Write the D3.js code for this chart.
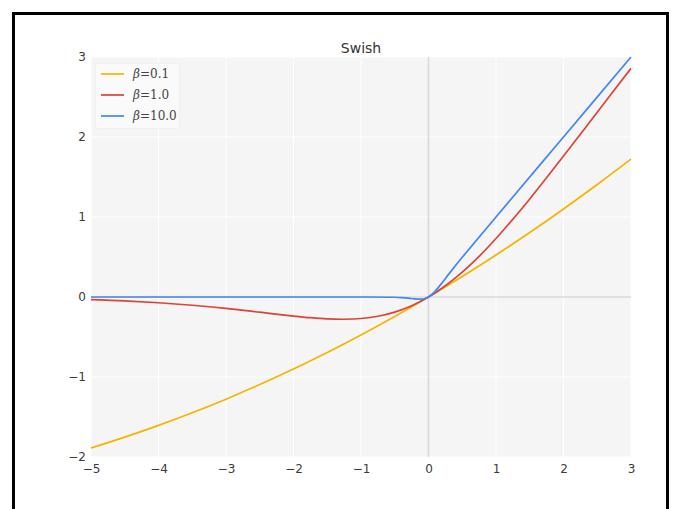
<!DOCTYPE html>
<html>
<head>
<meta charset="utf-8">
<script src="https://cdn.jsdelivr.net/npm/d3@7"></script>
<style>
  html, body { margin: 0; padding: 0; background: #ffffff; }
  svg { display: block; }
</style>
</head>
<body>
<svg id="chart" width="674" height="509"></svg>
<script>
// ---- Data ----
const xTicks = [-5, -4, -3, -2, -1, 0, 1, 2, 3];
const yTicks = [-2, -1, 0, 1, 2, 3];
const seriesLabels = ["0.1", "1.0", "10.0"];

const xBeta01 = [-5, -4.5, -4, -3.5, -3, -2.5, -2, -1.5, -1, -0.5, 0, 0.5, 1, 1.5, 2, 2.5, 3];
const yBeta01 = [-1.888, -1.752, -1.605, -1.447, -1.277, -1.094, -0.900, -0.694, -0.475, -0.244, 0, 0.256, 0.525, 0.806, 1.100, 1.406, 1.723];

const xBeta1 = [-5, -4.5, -4, -3.5, -3, -2.5, -2, -1.75, -1.5, -1.25, -1, -0.75, -0.5, -0.25, 0, 0.25, 0.5, 0.75, 1, 1.5, 2, 2.5, 3];
const yBeta1 = [-0.034, -0.049, -0.072, -0.103, -0.142, -0.190, -0.238, -0.259, -0.274, -0.278, -0.269, -0.241, -0.189, -0.109, 0, 0.141, 0.311, 0.509, 0.731, 1.226, 1.762, 2.310, 2.858];

const xBeta10 = [-5, -3, -1, -0.5, -0.4, -0.3, -0.2, -0.1, -0.05, 0, 0.05, 0.1, 0.2, 0.3, 0.4, 0.5, 1, 2, 3];
const yBeta10 = [0, 0, 0, -0.003, -0.007, -0.014, -0.024, -0.027, -0.019, 0, 0.031, 0.073, 0.176, 0.286, 0.393, 0.497, 1.0, 2.0, 3.0];

const colors = ["#f4b400", "#db4437", "#4285f4"];

// ---- Layout ----
const svg = d3.select("#chart");
const pL = 91, pR = 631, pT = 57, pB = 457;

const x = d3.scaleLinear().domain([-5, 3]).range([pL, pR]);
const y = d3.scaleLinear().domain([-2, 3]).range([pB, pT]);

// outer frame
svg.append("rect")
  .attr("x", 13.5).attr("y", 13.5)
  .attr("width", 654).attr("height", 520)
  .attr("fill", "none").attr("stroke", "#000").attr("stroke-width", 3);

// plot background
svg.append("rect")
  .attr("x", pL).attr("y", pT)
  .attr("width", pR - pL).attr("height", pB - pT)
  .attr("fill", "#f5f5f5");

// grid
const grid = svg.append("g");
grid.selectAll("line.gx").data(xTicks).enter().append("line")
  .attr("x1", d => x(d)).attr("x2", d => x(d))
  .attr("y1", pT).attr("y2", pB)
  .attr("stroke", "#ffffff").attr("stroke-width", 1);
grid.selectAll("line.gy").data(yTicks).enter().append("line")
  .attr("y1", d => y(d)).attr("y2", d => y(d))
  .attr("x1", pL).attr("x2", pR)
  .attr("stroke", "#ffffff").attr("stroke-width", 1);

// zero lines
svg.append("line")
  .attr("x1", x(0)).attr("x2", x(0)).attr("y1", pT).attr("y2", pB)
  .attr("stroke", "#d8d8d8").attr("stroke-width", 1.5);
svg.append("line")
  .attr("x1", pL).attr("x2", pR).attr("y1", y(0)).attr("y2", y(0))
  .attr("stroke", "#d8d8d8").attr("stroke-width", 1.5);

// axes (labels only)
const fmt = d => d < 0 ? "\u2212" + Math.abs(d) : String(d);
const xAxis = d3.axisBottom(x).tickValues(xTicks).tickSize(0).tickPadding(7).tickFormat(fmt);
const gx = svg.append("g").attr("transform", `translate(0,${pB})`).call(xAxis);
gx.select(".domain").remove();
gx.selectAll("text").attr("font-family", "DejaVu Sans").attr("font-size", 12).attr("fill", "#3a3a3a");

const yAxis = d3.axisLeft(y).tickValues(yTicks).tickSize(0).tickPadding(5).tickFormat(fmt);
const gy = svg.append("g").attr("transform", `translate(${pL},0)`).call(yAxis);
gy.select(".domain").remove();
gy.selectAll("text").attr("font-family", "DejaVu Sans").attr("font-size", 12).attr("fill", "#3a3a3a");

// title
svg.append("text")
  .attr("x", (pL + pR) / 2).attr("y", pT - 4)
  .attr("text-anchor", "middle")
  .attr("font-family", "DejaVu Sans").attr("font-size", 14).attr("fill", "#333")
  .text("Swish");

// lines
const series = [
  {xs: xBeta01, ys: yBeta01},
  {xs: xBeta1, ys: yBeta1},
  {xs: xBeta10, ys: yBeta10}
];
const line = d3.line().x(d => x(d[0])).y(d => y(d[1])).curve(d3.curveCatmullRom.alpha(0.5));
svg.append("g").selectAll("path").data(series).enter().append("path")
  .attr("d", s => line(s.xs.map((v, i) => [v, s.ys[i]])))
  .attr("fill", "none")
  .attr("stroke", (s, i) => colors[i])
  .attr("stroke-width", 1.7);

// legend
const lg = svg.append("g");
lg.append("rect")
  .attr("x", 95.5).attr("y", 63.5).attr("width", 84).attr("height", 65)
  .attr("rx", 3).attr("fill", "#fafafa").attr("stroke", "#f0f0f0");
const rowsY = [74, 95, 116];
seriesLabels.forEach((lab, i) => {
  lg.append("line")
    .attr("x1", 101).attr("x2", 124).attr("y1", rowsY[i]).attr("y2", rowsY[i])
    .attr("stroke", colors[i]).attr("stroke-width", 1.7);
  const t = lg.append("text")
    .attr("x", 133).attr("y", rowsY[i] + 4)
    .attr("font-family", "DejaVu Serif").attr("font-size", 12).attr("fill", "#444");
  t.append("tspan").attr("font-style", "italic").text("\u03b2");
  t.append("tspan").text("=" + lab);
});
</script>
</body>
</html>
